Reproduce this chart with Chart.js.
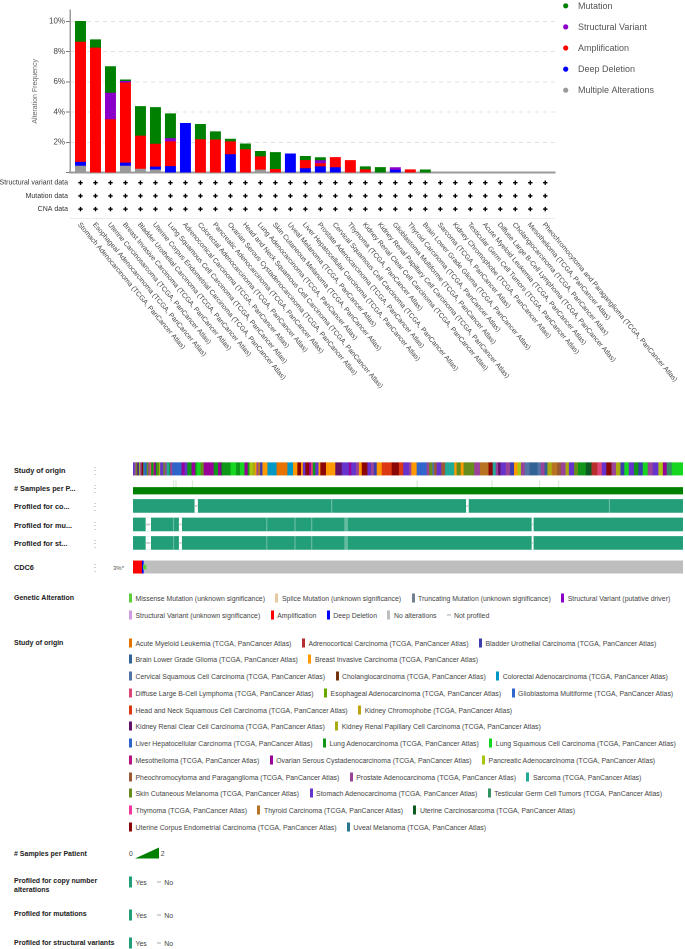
<!DOCTYPE html>
<html>
<head>
<meta charset="utf-8">
<title>CDC6 alteration summary</title>
<script src="https://cdn.jsdelivr.net/npm/chart.js@4.4.1/dist/chart.umd.min.js"></script>
<style>
  body { margin: 0; background: #fff; font-family: "Liberation Sans", Arial, sans-serif; }
  #page { position: relative; width: 685px; height: 949px; overflow: hidden; }
  canvas { position: absolute; }
  .head { position: absolute; left: 14px; font-weight: bold; font-size: 7px; color: #222; line-height: 9px; transform: translateY(-50%); white-space: nowrap; }
  .track { font-size: 7.3px; }
  .dots { position: absolute; left: 90px; font-size: 10px; color: #b0b0b0; transform: translateY(-50%); }
  .pct { position: absolute; left: 113px; font-size: 6px; color: #555; transform: translateY(-50%); }
  .row { position: absolute; left: 129px; white-space: nowrap; font-size: 6.9px; color: #444; transform: translateY(-50%); display: flex; align-items: center; }
  .item { display: inline-flex; align-items: center; margin-right: 10.5px; }
  .mark { display: inline-block; width: 3px; height: 9px; margin-right: 3.5px; }
  .dash { display: inline-block; width: 4px; height: 1px; background: #aaa; margin-right: 3px; }
  .tri { display: inline-block; width: 0; height: 0; border-left: 24px solid transparent; border-bottom: 11px solid #008000; margin: 0 2px; }
</style>
</head>
<body>
<div id="page">
  <canvas id="summary" width="685" height="420" style="left:0;top:0"></canvas>
  <canvas id="oncoprint" width="550" height="125" style="left:133px;top:455px"></canvas>
  <div id="labels"></div>
</div>
<script>
const FONT = '"Liberation Sans", Arial, sans-serif';
const SUFFIX = " (TCGA, PanCancer Atlas)";

// ---- cancer types summary (percent of samples) ----
const cancerTypes = [
  "Stomach Adenocarcinoma", "Esophageal Adenocarcinoma", "Uterine Carcinosarcoma",
  "Breast Invasive Carcinoma", "Bladder Urothelial Carcinoma", "Uterine Corpus Endometrial Carcinoma",
  "Lung Squamous Cell Carcinoma", "Adrenocortical Carcinoma", "Colorectal Adenocarcinoma",
  "Pancreatic Adenocarcinoma", "Ovarian Serous Cystadenocarcinoma", "Head and Neck Squamous Cell Carcinoma",
  "Lung Adenocarcinoma", "Skin Cutaneous Melanoma", "Uveal Melanoma", "Liver Hepatocellular Carcinoma",
  "Prostate Adenocarcinoma", "Cervical Squamous Cell Carcinoma", "Thymoma",
  "Kidney Renal Clear Cell Carcinoma", "Kidney Renal Papillary Cell Carcinoma", "Glioblastoma Multiforme",
  "Thyroid Carcinoma", "Brain Lower Grade Glioma", "Sarcoma", "Kidney Chromophobe",
  "Testicular Germ Cell Tumors", "Acute Myeloid Leukemia", "Diffuse Large B-Cell Lymphoma",
  "Cholangiocarcinoma", "Mesothelioma", "Pheochromocytoma and Paraganglioma"
];
const mutation = [1.37, 0.55, 1.75, 0.1, 1.95, 2.42, 1.64, 0, 1.01, 0.54, 0.17, 0.38, 0.35, 1.12, 0, 0.27,
  0.2, 0, 0, 0.2, 0.35, 0, 0, 0.19, 0, 0, 0, 0, 0, 0, 0, 0];
const structuralVariant = [0, 0, 1.75, 0.1, 0, 0, 0.21, 0, 0, 0, 0, 0, 0, 0, 0, 0,
  0.2, 0, 0, 0, 0, 0.17, 0, 0, 0, 0, 0, 0, 0, 0, 0, 0];
const amplification = [7.94, 8.24, 3.51, 5.3, 2.19, 1.51, 1.64, 0, 2.19, 2.17, 0.85, 1.53, 0.88, 0.22, 0, 0.54,
  0.2, 0.67, 0.81, 0.2, 0, 0, 0.2, 0, 0, 0, 0, 0, 0, 0, 0, 0];
const deepDeletion = [0.25, 0, 0, 0.2, 0, 0.19, 0.41, 3.26, 0, 0, 1.2, 0, 0, 0, 1.25, 0.27,
  0.4, 0.34, 0, 0, 0, 0.17, 0, 0, 0, 0, 0, 0, 0, 0, 0, 0];
const multipleAlterations = [0.44, 0, 0, 0.44, 0.24, 0.19, 0, 0, 0, 0, 0, 0, 0.18, 0, 0, 0,
  0, 0, 0, 0, 0, 0, 0, 0, 0, 0, 0, 0, 0, 0, 0, 0];
const profileRows = ["Structural variant data", "Mutation data", "CNA data"];

// ---- oncoprint ----
const studies = [
  "Acute Myeloid Leukemia", "Adrenocortical Carcinoma", "Bladder Urothelial Carcinoma",
  "Brain Lower Grade Glioma", "Breast Invasive Carcinoma", "Cervical Squamous Cell Carcinoma",
  "Cholangiocarcinoma", "Colorectal Adenocarcinoma", "Diffuse Large B-Cell Lymphoma",
  "Esophageal Adenocarcinoma", "Glioblastoma Multiforme", "Head and Neck Squamous Cell Carcinoma",
  "Kidney Chromophobe", "Kidney Renal Clear Cell Carcinoma", "Kidney Renal Papillary Cell Carcinoma",
  "Liver Hepatocellular Carcinoma", "Lung Adenocarcinoma", "Lung Squamous Cell Carcinoma",
  "Mesothelioma", "Ovarian Serous Cystadenocarcinoma", "Pancreatic Adenocarcinoma",
  "Pheochromocytoma and Paraganglioma", "Prostate Adenocarcinoma", "Sarcoma",
  "Skin Cutaneous Melanoma", "Stomach Adenocarcinoma", "Testicular Germ Cell Tumors",
  "Thymoma", "Thyroid Carcinoma", "Uterine Carcinosarcoma",
  "Uterine Corpus Endometrial Carcinoma", "Uveal Melanoma"
];
const studyCodes = ["LAML", "ACC", "BLCA", "LGG", "BRCA", "CESC", "CHOL", "CRC", "DLBC", "ESCA", "GBM",
  "HNSC", "KICH", "KIRC", "KIRP", "LIHC", "LUAD", "LUSC", "MESO", "OV", "PAAD", "PCPG", "PRAD", "SARC",
  "SKCM", "STAD", "TGCT", "THYM", "THCA", "UCS", "UCEC", "UVM"];
const studyColors = ["#e67300", "#b82e2e", "#3b3eac", "#316395", "#ff9900", "#5574a6", "#743411",
  "#0099c6", "#dd4477", "#66aa00", "#3366cc", "#dc3912", "#bea413", "#651067", "#aaaa11", "#2f64c8",
  "#109618", "#16d620", "#b91383", "#990099", "#a9c413", "#9c5935", "#994499", "#22aa99", "#668d1c",
  "#6633cc", "#329262", "#f4359e", "#b77322", "#0c5922", "#8b0707", "#2a778d"];
// runs of samples in oncoprint order: [study, number of samples]
const studySegments = [
  ["STAD", 30], ["PAAD", 20], ["PRAD", 20], ["SKCM", 10], ["KIRC", 20], ["BLCA", 30], ["PAAD", 20],
  ["PRAD", 30], ["UCEC", 20], ["SARC", 20], ["LIHC", 60], ["SKCM", 20], ["PRAD", 30], ["BRCA", 20],
  ["DLBC", 20], ["LUAD", 30], ["KIRP", 20], ["OV", 30], ["LUAD", 40], ["SKCM", 30], ["PAAD", 30],
  ["STAD", 50], ["SKCM", 30], ["PRAD", 50], ["SARC", 40], ["LUAD", 30], ["PRAD", 30], ["LIHC", 200],
  ["OV", 60], ["STAD", 40], ["LUAD", 100], ["OV", 60], ["LUAD", 40], ["LUSC", 80], ["SKCM", 50],
  ["OV", 200], ["LUAD", 100], ["OV", 40], ["KIRC", 30], ["LUAD", 180], ["LUSC", 100], ["LUAD", 90],
  ["LUSC", 90], ["OV", 50], ["LUAD", 50], ["PAAD", 50], ["KIRP", 50], ["BRCA", 40], ["PRAD", 30],
  ["THCA", 30], ["BLCA", 60], ["BRCA", 100], ["CRC", 170], ["LAML", 230], ["CRC", 100], ["BRCA", 100],
  ["UCEC", 60], ["BRCA", 50], ["STAD", 50], ["UCEC", 60], ["OV", 40], ["DLBC", 50], ["LUAD", 50],
  ["STAD", 50], ["BRCA", 50], ["UCEC", 100], ["BRCA", 200], ["KIRC", 130], ["STAD", 130], ["OV", 60],
  ["STAD", 80], ["PRAD", 60], ["BRCA", 70], ["UCEC", 100], ["STAD", 70], ["PRAD", 60], ["BLCA", 70],
  ["BRCA", 100], ["HNSC", 200], ["UCEC", 130], ["HNSC", 100], ["STAD", 100],
  ["PRAD", 50], ["BRCA", 120], ["GBM", 200], ["PRAD", 50], ["SKCM", 50], ["CESC", 50], ["PCPG", 50],
  ["STAD", 80], ["PCPG", 90], ["SARC", 170], ["BRCA", 60], ["SKCM", 70], ["BRCA", 70], ["SKCM", 200],
  ["PRAD", 130], ["THCA", 170], ["UCEC", 70], ["SARC", 60], ["PRAD", 50], ["KIRC", 60], ["STAD", 90],
  ["PRAD", 90], ["BLCA", 90], ["BRCA", 70], ["PAAD", 70], ["PRAD", 60], ["CESC", 100], ["LGG", 170],
  ["CESC", 70], ["PRAD", 60], ["LGG", 70], ["KIRP", 90], ["THCA", 90], ["PCPG", 90], ["PRAD", 80],
  ["KIRP", 80], ["STAD", 90], ["SKCM", 80], ["LUAD", 170], ["UCS", 100], ["ACC", 130], ["DLBC", 90],
  ["STAD", 90], ["UCEC", 90], ["PRAD", 90], ["KIRP", 90], ["BLCA", 90], ["LUSC", 90], ["STAD", 90],
  ["LUAD", 90], ["BLCA", 100], ["LUSC", 100], ["PRAD", 100], ["STAD", 100], ["PAAD", 90], ["OV", 90],
  ["TGCT", 90], ["LUSC", 230]
];
const twoSamplePatients = [806, 854, 1186, 5686, 7186, 8140, 8520];
const cnaGaps = [[1240, 1294], [6680, 6720]];
const cnaFaint = [[3974, 3986], [9540, 9552]];
const mutGaps = [[260, 354], [926, 974], [7994, 8020]];
const mutFaint = [[806, 818], [2674, 2686], [3240, 3252], [3574, 3586], [4240, 4300]];
const svGaps = mutGaps;
const svFaint = mutFaint;
const cdc6Amp = [0, 186];
const cdc6Del = [186, 206];
const cdc6Mut = [206, 260];
const cdc6Label = "3%*";

const alterationLegend = [
  ["Missense Mutation (unknown significance)", "#5dce3b"],
  ["Splice Mutation (unknown significance)", "#e5c9a2"],
  ["Truncating Mutation (unknown significance)", "#708090"],
  ["Structural Variant (putative driver)", "#8b00c9"],
  ["Structural Variant (unknown significance)", "#cf9ee2"],
  ["Amplification", "#ff0000"],
  ["Deep Deletion", "#0000ff"],
  ["No alterations", "#bebebe"],
  ["Not profiled", null]
];

// ---------- top chart ----------
const summaryDecor = {
  id: "summaryDecor",
  afterDraw(chart) {
    const { ctx, scales: { x }, chartArea } = chart;
    ctx.save();
    // light box under the profile rows
    ctx.strokeStyle = "#ececec";
    ctx.lineWidth = 1;
    ctx.beginPath();
    ctx.moveTo(chartArea.left, 218.5);
    ctx.lineTo(chartArea.right, 218.5);
    ctx.stroke();

    ctx.font = "7px " + FONT;
    ctx.textAlign = "right";
    ctx.textBaseline = "middle";
    profileRows.forEach((label, r) => {
      const y = 182.7 + r * 13.2;
      ctx.fillStyle = "#333";
      ctx.fillText(label, 68, y);
      ctx.fillStyle = "#000";
      cancerTypes.forEach((_, i) => {
        const px = x.getPixelForValue(i);
        ctx.fillRect(px - 2.2, y - 0.7, 4.4, 1.4);
        ctx.fillRect(px - 0.7, y - 2.2, 1.4, 4.4);
      });
    });

    // rotated cancer type labels
    ctx.font = "6.95px " + FONT;
    ctx.fillStyle = "#444";
    ctx.textAlign = "left";
    cancerTypes.forEach((name, i) => {
      const px = x.getPixelForValue(i);
      ctx.save();
      ctx.translate(px - 1.5, 223.5);
      ctx.rotate(50 * Math.PI / 180);
      ctx.fillText(name + SUFFIX, 0, 0);
      ctx.restore();
    });

    // legend
    ctx.font = "9px " + FONT;
    ctx.textBaseline = "middle";
    chart.data.datasets.slice().reverse().forEach((ds, k) => {
      const y = 5.8 + k * 21.1;
      ctx.fillStyle = ds.backgroundColor;
      ctx.beginPath();
      ctx.arc(565.7, y, 2.6, 0, Math.PI * 2);
      ctx.fill();
      ctx.fillStyle = "#555";
      ctx.fillText(ds.label, 578, y + 0.5);
    });
    ctx.restore();
  }
};

function series(label, values, color) {
  return {
    label,
    data: values.map((v, i) => ({ x: i, y: v > 0 ? v : null })),
    backgroundColor: color,
    barThickness: 10.3
  };
}

new Chart(document.getElementById("summary"), {
  type: "bar",
  data: {
    datasets: [
      series("Multiple Alterations", multipleAlterations, "#999999"),
      series("Deep Deletion", deepDeletion, "#0000ff"),
      series("Amplification", amplification, "#ff0000"),
      series("Structural Variant", structuralVariant, "#8b00c9"),
      series("Mutation", mutation, "#008000")
    ]
  },
  options: {
    responsive: false,
    animation: false,
    devicePixelRatio: 2,
    layout: { padding: { left: 0, right: 130, top: 10, bottom: 247.3 } },
    plugins: { legend: { display: false }, tooltip: { enabled: false } },
    scales: {
      x: {
        type: "linear",
        stacked: true,
        offset: false,
        min: -0.7,
        max: 31.65,
        ticks: { display: false },
        grid: { display: false, drawTicks: false },
        border: { color: "#9a9a9a", width: 2 },
        afterFit: (s) => { s.height = 0; }
      },
      y: {
        stacked: true,
        min: 0,
        max: 10.75,
        ticks: {
          stepSize: 2,
          includeBounds: false,
          callback: (v) => (v === 0 ? "" : v + "%"),
          font: { size: 8, family: FONT },
          color: "#444",
          padding: 1
        },
        grid: {
          color: (c) => (c.tick && c.tick.value === 0 ? "rgba(0,0,0,0)" : "#e2e2e2"),
          tickColor: "#777",
          tickLength: 4
        },
        border: { color: "#9a9a9a", width: 1.5, dash: [4, 4] },
        title: {
          display: true,
          text: "Alteration Frequency",
          color: "#666",
          font: { size: 7, family: FONT },
          padding: { top: 31, bottom: 0 }
        },
        afterFit: (s) => { s.width = 70; }
      }
    }
  },
  plugins: [summaryDecor]
});

// ---------- oncoprint ----------
const N = studySegments.reduce((a, s) => a + s[1], 0);
const trackY = { study: 0, samples: 1, cna: 2, mut: 3, sv: 4, gene: 5.3 };

function bar(y, s, e) { return { x: [s, e], y }; }
function layer(data, color, thickness) {
  return { data, backgroundColor: color, barThickness: thickness };
}

// layers are listed bottom to top; Chart.js paints the first dataset last, so reverse at the end
const onco = [];
const byStudy = studies.map(() => []);
let pos = 0;
studySegments.forEach(([code, n]) => {
  byStudy[studyCodes.indexOf(code)].push(bar(trackY.study, pos, pos + n));
  pos += n;
});
byStudy.forEach((bars, k) => { if (bars.length) onco.push(layer(bars, studyColors[k], 12.4)); });

onco.push(layer(twoSamplePatients.map((p) => bar(0.82, p, p + 14)), "#d9ecd9", 7));
onco.push(layer([bar(1.18, 0, N)], "#008000", 6.6));

[["cna", cnaGaps, cnaFaint], ["mut", mutGaps, mutFaint], ["sv", svGaps, svFaint]].forEach(([key, gaps, faint]) => {
  const y = trackY[key];
  onco.push(layer([bar(y, 0, N)], "#229e78", 13));
  onco.push(layer(faint.map(([s, e]) => bar(y, s, e)), "rgba(255,255,255,0.3)", 13));
  onco.push(layer(gaps.map(([s, e]) => bar(y, s, e)), "#ffffff", 13));
  onco.push(layer(gaps.map(([s, e]) => bar(y, s + 10, e - 10)), "#c8c8c8", 1));
});

onco.push(layer([bar(trackY.gene, 0, N)], "#bebebe", 12.3));
onco.push(layer([bar(trackY.gene, cdc6Amp[0], cdc6Amp[1])], "#ff0000", 12.3));
onco.push(layer([bar(trackY.gene, cdc6Del[0], cdc6Del[1])], "#0000ff", 12.3));
onco.push(layer([bar(trackY.gene, cdc6Mut[0], cdc6Mut[1])], "#5dce3b", 4));
onco.reverse();

new Chart(document.getElementById("oncoprint"), {
  type: "bar",
  data: { datasets: onco },
  options: {
    indexAxis: "y",
    responsive: false,
    animation: false,
    devicePixelRatio: 2,
    layout: { padding: 0 },
    plugins: { legend: { display: false }, tooltip: { enabled: false } },
    scales: {
      x: { type: "linear", min: 0, max: N, display: false, stacked: false },
      y: { type: "linear", min: -0.75, max: 6.0, reverse: true, display: false, stacked: true, offset: false }
    }
  }
});

// ---------- text: track labels and legends ----------
const host = document.getElementById("labels");
function add(html, cls, top, extra) {
  const d = document.createElement("div");
  d.className = cls;
  d.style.top = top + "px";
  if (extra) Object.assign(d.style, extra);
  d.innerHTML = html;
  host.appendChild(d);
  return d;
}
function item(text, color, h) {
  const m = color
    ? '<span class="mark" style="background:' + color + ';height:' + (h || 9) + 'px"></span>'
    : '<span class="dash"></span>';
  return '<span class="item">' + m + text + "</span>";
}

const trackNames = ["Study of origin", "# Samples per P...", "Profiled for co...", "Profiled for mu...", "Profiled for st...", "CDC6"];
const trackCenters = [469.5, 488, 506, 524.8, 543.2, 567.2];
trackNames.forEach((t, i) => {
  add(t, "head track", trackCenters[i]);
  add("&#8942;", "dots", trackCenters[i]);
});
add(cdc6Label, "pct", 567.5);

add("Genetic Alteration", "head", 597);
add(alterationLegend.slice(0, 4).map(([t, c]) => item(t, c)).join(""), "row", 598.3);
add(alterationLegend.slice(4).map(([t, c]) => item(t, c)).join(""), "row", 615);

add("Study of origin", "head", 641.7);
const studyRows = [[0, 1, 2], [3, 4], [5, 6, 7], [8, 9, 10], [11, 12], [13, 14], [15, 16, 17],
  [18, 19, 20], [21, 22, 23], [24, 25, 26], [27, 28, 29], [30, 31]];
studyRows.forEach((r, k) => {
  add(r.map((i) => item(studies[i] + SUFFIX, studyColors[i])).join(""), "row", 642.6 + k * 16.75);
});

add("# Samples per Patient", "head", 853.3);
add('<span>0</span><span class="tri"></span><span>2</span>', "row", 853.3);

const profiledLegends = [["Profiled for copy number<br>alterations", 884.5, 882.3], ["Profiled for mutations", 913.3, 915], ["Profiled for structural variants", 941.7, 943]];
profiledLegends.forEach(([t, yh, yr]) => {
  add(t, "head", yh);
  add(item("Yes", "#229e78", 11) + item("No", null), "row", yr);
});
</script>
</body>
</html>
